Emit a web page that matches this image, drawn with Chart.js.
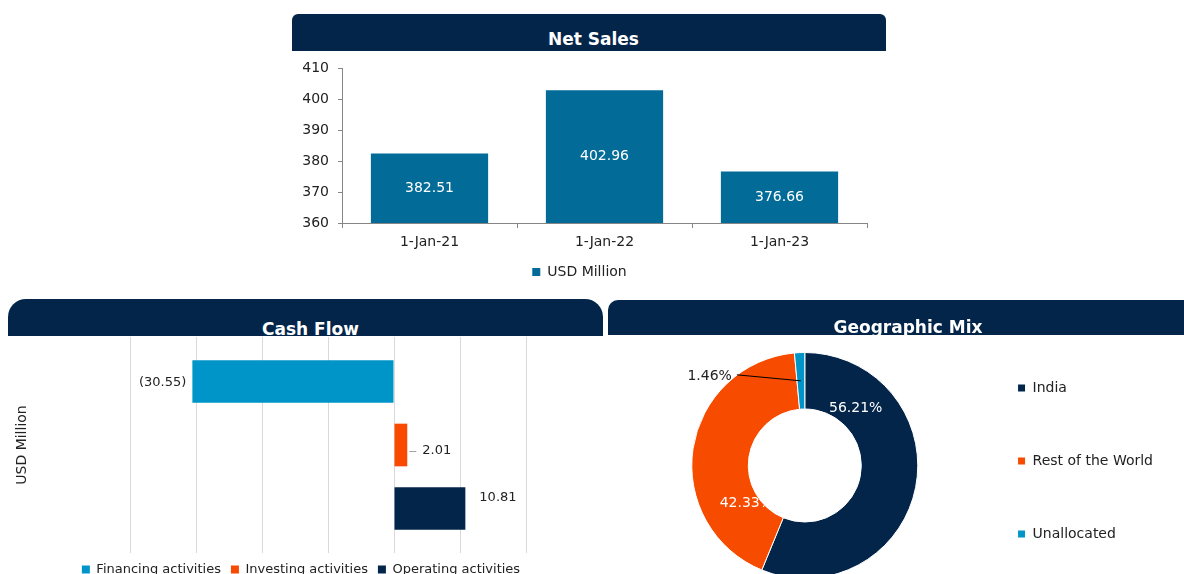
<!DOCTYPE html>
<html>
<head>
<meta charset="utf-8">
<script src="https://cdn.jsdelivr.net/npm/chart.js@4.4.0/dist/chart.umd.min.js"></script>
<style>
  html, body { margin:0; padding:0; background:#fff; width:1184px; height:574px; overflow:hidden; font-family:'DejaVu Sans', Verdana, sans-serif; }
  .head { position:absolute; background:#03254a; overflow:hidden; z-index:2; }
  .head span { position:absolute; left:0; right:0; text-align:center; color:#fff; font-weight:bold; font-size:17px; line-height:17px; white-space:nowrap; }
  .box { position:absolute; z-index:1; }
</style>
</head>
<body>
<div class="head" style="left:292px;top:14px;width:594px;height:37px;border-radius:6px 6px 0 0"><span style="top:17px;left:9px">Net Sales</span></div>
<div class="head" style="left:8px;top:299px;width:595px;height:37px;border-radius:18px 18px 0 0"><span style="top:22px;left:10px">Cash Flow</span></div>
<div class="head" style="left:608px;top:300px;width:600px;height:35px;border-radius:10px 10px 0 0"><span style="top:19px">Geographic Mix</span></div>

<div class="box" style="left:292px;top:51px;width:594px;height:238px"><canvas id="sales"></canvas></div>
<div class="box" style="left:8px;top:337px;width:595px;height:249px"><canvas id="cash"></canvas></div>
<div class="box" style="left:608px;top:311px;width:576px;height:300px"><canvas id="geo"></canvas></div>

<script>
// net sales
const salesYears = ['1-Jan-21', '1-Jan-22', '1-Jan-23'];
const salesValues = [382.51, 402.96, 376.66];

// cash flow (USD Million)
const cashNames = ['Financing activities', 'Investing activities', 'Operating activities'];
const cashValues = [-30.55, 2.01, 10.81];

// geographic mix (%)
const geoNames = ['India', 'Rest of the World', 'Unallocated'];
const geoShares = [56.21, 42.33, 1.46];

const navy = '#03254a';
const textCol = '#222';
const axisCol = '#868686';

Chart.defaults.font.family = "'DejaVu Sans', Verdana, sans-serif";
Chart.defaults.color = textCol;
Chart.defaults.animation = false;

// value labels in the middle of the net sales bars
const salesLabels = {
  id: 'salesLabels',
  afterDatasetsDraw(chart) {
    const ctx = chart.ctx;
    const base = chart.scales.y.getPixelForValue(chart.scales.y.min);
    ctx.save();
    ctx.font = "14px 'DejaVu Sans'";
    ctx.fillStyle = '#fff';
    ctx.textAlign = 'center';
    ctx.textBaseline = 'middle';
    chart.getDatasetMeta(0).data.forEach((bar, i) => {
      const p = bar.getProps(['x', 'y'], true);
      ctx.fillText(salesValues[i].toFixed(2), p.x, (p.y + base) / 2);
    });
    ctx.restore();
  }
};

new Chart(document.getElementById('sales'), {
  type: 'bar',
  data: {
    labels: salesYears,
    datasets: [{ label: 'USD Million', data: salesValues, backgroundColor: '#026b97', barPercentage: 0.67, categoryPercentage: 1 }]
  },
  options: {
    responsive: true,
    maintainAspectRatio: false,
    layout: { padding: { top: 13, right: 19, left: 0, bottom: 0 } },
    scales: {
      x: {
        grid: { drawOnChartArea: false, color: axisCol, tickLength: 5 },
        border: { color: axisCol },
        ticks: { font: { size: 14 }, padding: 6, color: textCol },
        afterFit: s => { s.height = 31; }
      },
      y: {
        min: 360, max: 410,
        grid: { drawOnChartArea: false, color: axisCol, tickLength: 4 },
        border: { color: axisCol },
        ticks: { stepSize: 10, font: { size: 14 }, padding: 9, color: textCol },
        afterFit: s => { s.width = 50; }
      }
    },
    plugins: {
      legend: { position: 'bottom', labels: { boxWidth: 8, boxHeight: 8, padding: 11, font: { size: 14 }, color: textCol } },
      tooltip: { enabled: false }
    }
  },
  plugins: [salesLabels]
});

// labels beside the cash flow bars
const cashLabelPlace = [
  { dx: -6, dy: 1, align: 'right' },
  { dx: 15, dy: 6, align: 'left', leader: true },
  { dx: 14, dy: -11, align: 'left' }
];
function fmtCash(v) {
  return v < 0 ? '(' + Math.abs(v).toFixed(2) + ')' : v.toFixed(2);
}
const cashLabels = {
  id: 'cashLabels',
  afterDatasetsDraw(chart) {
    const ctx = chart.ctx;
    ctx.save();
    ctx.font = "13px 'DejaVu Sans'";
    ctx.fillStyle = textCol;
    ctx.textBaseline = 'middle';
    cashValues.forEach((v, i) => {
      const bar = chart.getDatasetMeta(i).data[0];
      const p = cashLabelPlace[i];
      ctx.textAlign = p.align;
      ctx.fillText(fmtCash(v), bar.x + p.dx, bar.y + p.dy);
      if (p.leader) {
        ctx.strokeStyle = '#a6a6a6';
        ctx.lineWidth = 1;
        ctx.beginPath();
        ctx.moveTo(bar.x + 2, bar.y + p.dy + 0.5);
        ctx.lineTo(bar.x + 9, bar.y + p.dy + 0.5);
        ctx.stroke();
      }
    });
    ctx.restore();
  }
};

const cashColors = ['#0095c9', '#f84a00', navy];
new Chart(document.getElementById('cash'), {
  type: 'bar',
  data: {
    labels: [''],
    datasets: cashNames.map((n, i) => ({
      label: n,
      data: [cashValues[i]],
      backgroundColor: cashColors[i],
      categoryPercentage: 0.882,
      barPercentage: 0.672
    }))
  },
  options: {
    indexAxis: 'y',
    responsive: true,
    maintainAspectRatio: false,
    layout: { padding: { top: 0, right: 9, left: 0, bottom: 0 } },
    scales: {
      x: {
        min: -40, max: 20,
        grid: { color: '#d9d9d9', drawTicks: false },
        border: { display: false },
        ticks: { display: false, stepSize: 10 },
        afterFit: s => { s.height = 0; }
      },
      y: {
        grid: { display: false },
        border: { display: false },
        ticks: { display: false },
        title: { display: true, text: 'USD Million', font: { size: 14 }, color: textCol, padding: { top: 6, bottom: 4 } },
        afterFit: s => { s.width = 122; }
      },
      // empty right-hand strip, keeps the plot narrower than the legend row
      yRight: {
        type: 'linear',
        position: 'right',
        grid: { display: false },
        border: { display: false },
        ticks: { display: false },
        afterFit: s => { s.width = 68; }
      }
    },
    plugins: {
      legend: { position: 'bottom', labels: { boxWidth: 8, boxHeight: 8, padding: 10, font: { size: 13 }, color: textCol } },
      tooltip: { enabled: false }
    }
  },
  plugins: [cashLabels]
});

// percentage labels on the doughnut
const geoLabelPlace = [
  { along: 0.205, ring: 0.36, color: '#fff' },
  { along: 0.229, ring: 0.23, color: '#fff', clipHole: true },
  { outside: true, color: textCol, dx: -64, dy: -6 }
];
const geoLabels = {
  id: 'geoLabels',
  afterDatasetsDraw(chart) {
    const ctx = chart.ctx;
    ctx.save();
    ctx.font = "14px 'DejaVu Sans'";
    ctx.textBaseline = 'middle';
    chart.getDatasetMeta(0).data.forEach((arc, i) => {
      const a = arc.getProps(['x', 'y', 'startAngle', 'endAngle', 'innerRadius', 'outerRadius'], true);
      const p = geoLabelPlace[i];
      const txt = geoShares[i].toFixed(2) + '%';
      ctx.fillStyle = p.color;
      if (p.outside) {
        const mid = (a.startAngle + a.endAngle) / 2;
        const r = (a.innerRadius + a.outerRadius) / 2;
        const x0 = a.x + r * Math.cos(mid), y0 = a.y + r * Math.sin(mid);
        const x1 = x0 + p.dx, y1 = y0 + p.dy;
        ctx.strokeStyle = '#000';
        ctx.lineWidth = 1;
        ctx.beginPath();
        ctx.moveTo(x0, y0);
        ctx.lineTo(x1, y1);
        ctx.stroke();
        ctx.textAlign = 'right';
        ctx.fillText(txt, x1 - 5, y1 + 2);
        return;
      }
      const ang = a.startAngle + p.along * (a.endAngle - a.startAngle);
      const r = a.innerRadius + p.ring * (a.outerRadius - a.innerRadius);
      ctx.save();
      if (p.clipHole) {
        ctx.beginPath();
        ctx.rect(0, 0, chart.width, chart.height);
        ctx.moveTo(a.x + a.innerRadius, a.y);
        ctx.arc(a.x, a.y, a.innerRadius, 0, Math.PI * 2, true);
        ctx.clip('evenodd');
      }
      ctx.textAlign = 'center';
      ctx.fillText(txt, a.x + r * Math.cos(ang), a.y + r * Math.sin(ang));
      ctx.restore();
    });
    ctx.restore();
  }
};

new Chart(document.getElementById('geo'), {
  type: 'doughnut',
  data: {
    labels: geoNames,
    datasets: [{
      data: geoShares,
      backgroundColor: [navy, '#f74b00', '#0094c9'],
      borderColor: '#fff',
      borderWidth: 1
    }]
  },
  options: {
    responsive: true,
    maintainAspectRatio: false,
    cutout: '50%',
    layout: { padding: { top: 0, bottom: 0, left: 43, right: 21 } },
    plugins: {
      // empty title / subtitle only reserve room above and below the ring
      title: { display: true, text: '', font: { size: 10 }, padding: { top: 29, bottom: 0 } },
      subtitle: { display: true, position: 'bottom', text: '', font: { size: 10 }, padding: { top: 20, bottom: 0 } },
      legend: { position: 'right', labels: { boxWidth: 8, boxHeight: 8, padding: 59, font: { size: 14 }, color: textCol } },
      tooltip: { enabled: false }
    }
  },
  plugins: [geoLabels]
});
</script>
</body>
</html>
